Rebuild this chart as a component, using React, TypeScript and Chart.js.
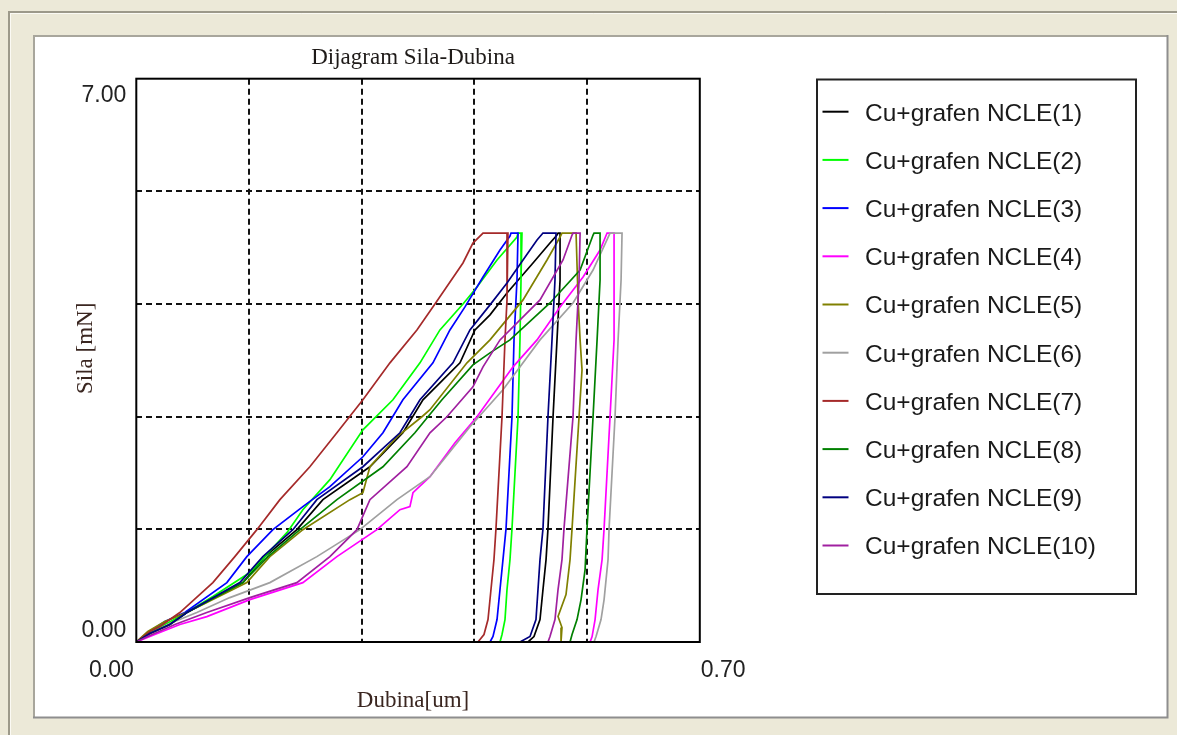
import React, { useEffect, useRef } from "react";
import { Chart, registerables } from "chart.js";

Chart.register(...registerables);

// ---------- data ----------
const chartTitle = "Dijagram Sila-Dubina";
const xAxisTitle = "Dubina[um]";
const yAxisTitle = "Sila [mN]";

const seriesLabels = [
  "Cu+grafen NCLE(1)",
  "Cu+grafen NCLE(2)",
  "Cu+grafen NCLE(3)",
  "Cu+grafen NCLE(4)",
  "Cu+grafen NCLE(5)",
  "Cu+grafen NCLE(6)",
  "Cu+grafen NCLE(7)",
  "Cu+grafen NCLE(8)",
  "Cu+grafen NCLE(9)",
  "Cu+grafen NCLE(10)",
];

const seriesColors = [
  "#000000",
  "#00FF00",
  "#0000FF",
  "#FF00FF",
  "#808000",
  "#A0A0A0",
  "#A52A2A",
  "#008000",
  "#000080",
  "#A020A0",
];

// depth [um], force [mN]
const depth1 = [0, 0.0168, 0.0416, 0.0628, 0.1324, 0.1597, 0.1995, 0.2318, 0.2902, 0.3312, 0.3561, 0.4021, 0.4207, 0.4394, 0.4605, 0.4928, 0.5139, 0.5226, 0.5239, 0.5264, 0.5264, 0.5226, 0.5177, 0.5114, 0.509, 0.5052, 0.5015, 0.494, 0.4866];
const force1 = [0, 0.105, 0.217, 0.366, 0.738, 1.061, 1.396, 1.769, 2.178, 2.6, 3.01, 3.469, 3.878, 4.065, 4.338, 4.71, 4.958, 5.057, 5.082, 5.082, 4.499, 3.754, 2.799, 1.409, 1.024, 0.652, 0.279, 0.068, 0];

const depth2 = [0, 0.0168, 0.0354, 0.0541, 0.0951, 0.1411, 0.1871, 0.2069, 0.2405, 0.2815, 0.3188, 0.3524, 0.3772, 0.4058, 0.4232, 0.4481, 0.4729, 0.4742, 0.4791, 0.4779, 0.4766, 0.4742, 0.4667, 0.4642, 0.4605, 0.458, 0.4543, 0.4518];
const force2 = [0, 0.105, 0.217, 0.316, 0.565, 0.863, 1.359, 1.644, 2.017, 2.637, 3.01, 3.469, 3.878, 4.201, 4.412, 4.747, 5.033, 5.082, 5.082, 4.499, 3.754, 2.799, 1.409, 1.024, 0.652, 0.279, 0.093, 0];

const depth3 = [0, 0.0168, 0.0354, 0.0603, 0.1125, 0.1373, 0.1697, 0.2069, 0.2405, 0.2815, 0.3064, 0.3312, 0.3685, 0.3896, 0.4083, 0.4307, 0.4518, 0.4642, 0.4655, 0.4742, 0.4729, 0.4692, 0.4667, 0.4593, 0.4555, 0.4518, 0.4481, 0.4431, 0.4394];
const force3 = [0, 0.13, 0.254, 0.366, 0.738, 1.061, 1.396, 1.682, 1.93, 2.302, 2.6, 3.01, 3.469, 3.878, 4.164, 4.536, 4.871, 5.045, 5.082, 5.082, 4.499, 3.754, 2.799, 1.409, 1.024, 0.652, 0.279, 0.068, 0];

const depth4 = [0, 0.023, 0.0541, 0.0876, 0.1411, 0.2069, 0.2492, 0.2989, 0.3275, 0.3399, 0.3437, 0.3648, 0.3959, 0.4232, 0.468, 0.4978, 0.5264, 0.555, 0.5761, 0.5848, 0.5935, 0.5935, 0.5935, 0.5885, 0.5811, 0.5786, 0.5736, 0.5699, 0.5662, 0.5637];
const force4 = [0, 0.093, 0.217, 0.316, 0.527, 0.738, 1.061, 1.396, 1.644, 1.682, 1.855, 2.054, 2.476, 2.799, 3.419, 3.754, 4.164, 4.536, 4.871, 5.082, 5.082, 4.499, 3.754, 2.799, 1.409, 1.024, 0.652, 0.279, 0.068, 0];

const depth5 = [0, 0.0143, 0.0354, 0.0628, 0.1373, 0.1659, 0.2069, 0.2654, 0.2815, 0.2902, 0.3238, 0.3548, 0.3648, 0.4108, 0.4394, 0.4804, 0.5102, 0.5264, 0.5288, 0.5463, 0.5488, 0.5513, 0.5537, 0.55, 0.5413, 0.5388, 0.5338, 0.5239, 0.5288, 0.5276];
const force5 = [0, 0.13, 0.254, 0.366, 0.738, 1.061, 1.396, 1.769, 1.855, 2.178, 2.55, 2.799, 2.886, 3.469, 3.754, 4.251, 4.747, 5.033, 5.082, 5.082, 4.251, 3.754, 3.382, 2.799, 1.409, 1.024, 0.59, 0.316, 0.18, 0];

const depth6 = [0, 0.0168, 0.0416, 0.0752, 0.1162, 0.1659, 0.2243, 0.2778, 0.3238, 0.3648, 0.4145, 0.4555, 0.5015, 0.5425, 0.5674, 0.5885, 0.6034, 0.6022, 0.5985, 0.5947, 0.5873, 0.586, 0.5811, 0.5773, 0.5711, 0.5686];
const force6 = [0, 0.105, 0.23, 0.366, 0.552, 0.738, 1.061, 1.396, 1.769, 2.054, 2.675, 3.134, 3.754, 4.213, 4.623, 5.082, 5.082, 4.499, 3.754, 2.799, 1.409, 1.024, 0.527, 0.279, 0.068, 0];

const depth7 = [0, 0.0168, 0.0292, 0.0541, 0.0951, 0.1224, 0.1498, 0.1784, 0.2156, 0.2492, 0.2815, 0.3151, 0.3486, 0.371, 0.4058, 0.4182, 0.4307, 0.4617, 0.4605, 0.458, 0.4543, 0.4468, 0.4443, 0.4406, 0.4369, 0.4319, 0.4244];
const force7 = [0, 0.13, 0.192, 0.366, 0.738, 1.061, 1.396, 1.769, 2.178, 2.6, 3.01, 3.469, 3.878, 4.201, 4.71, 4.958, 5.082, 5.082, 4.251, 3.754, 2.799, 1.409, 1.024, 0.652, 0.279, 0.093, 0];

const depth8 = [0, 0.0168, 0.0416, 0.0628, 0.1324, 0.1634, 0.2032, 0.2492, 0.3064, 0.3461, 0.3623, 0.3797, 0.4182, 0.4394, 0.4642, 0.5139, 0.5513, 0.5674, 0.5686, 0.5761, 0.5761, 0.5724, 0.5674, 0.5599, 0.5575, 0.5525, 0.5475, 0.5413, 0.5388];
const force8 = [0, 0.105, 0.217, 0.366, 0.738, 1.061, 1.396, 1.769, 2.178, 2.6, 2.799, 3.01, 3.444, 3.593, 3.754, 4.213, 4.623, 5.057, 5.082, 5.082, 4.499, 3.754, 2.799, 1.409, 0.9, 0.527, 0.279, 0.093, 0];

const depth9 = [0, 0.0168, 0.0416, 0.0628, 0.1286, 0.1572, 0.1945, 0.2243, 0.2815, 0.3275, 0.3524, 0.3934, 0.4145, 0.4394, 0.4605, 0.4804, 0.4978, 0.5052, 0.5214, 0.5201, 0.5164, 0.5114, 0.5052, 0.5015, 0.499, 0.4965, 0.4891, 0.4766];
const force9 = [0, 0.105, 0.217, 0.366, 0.738, 1.061, 1.396, 1.769, 2.178, 2.6, 3.01, 3.469, 3.878, 4.189, 4.462, 4.747, 4.995, 5.082, 5.082, 4.499, 3.754, 2.799, 1.409, 1.024, 0.652, 0.279, 0.068, 0];

const depth10 = [0, 0.0168, 0.0479, 0.0876, 0.1411, 0.1995, 0.2405, 0.2741, 0.2902, 0.3362, 0.3648, 0.3859, 0.4182, 0.4307, 0.4518, 0.5015, 0.5301, 0.5413, 0.5425, 0.5513, 0.55, 0.5463, 0.5425, 0.5313, 0.5288, 0.5239, 0.5201, 0.5139, 0.5114];
const force10 = [0, 0.081, 0.217, 0.366, 0.552, 0.738, 1.061, 1.396, 1.769, 2.178, 2.6, 2.799, 3.171, 3.419, 3.754, 4.251, 4.747, 5.057, 5.082, 5.082, 4.499, 3.754, 2.799, 1.409, 1.024, 0.652, 0.279, 0.068, 0];

const depthSeries = [depth1, depth2, depth3, depth4, depth5, depth6, depth7, depth8, depth9, depth10];
const forceSeries = [force1, force2, force3, force4, force5, force6, force7, force8, force9, force10];

const xMin = 0;
const xMax = 0.7;
const yMin = 0;
const yMax = 7;
const xGridValues = [0, 0.14, 0.28, 0.42, 0.56, 0.7];
const yGridValues = [0, 1.4, 2.8, 4.2, 5.6, 7];
const xTickValues = [0, 0.7];
const xTickLabels = ["0.00", "0.70"];
const yTickValues = [0, 7];
const yTickLabels = ["0.00", "7.00"];

// ---------- drawing helpers ----------
const W = 1177;
const H = 735;
const SANS = '"Liberation Sans", Arial, sans-serif';
const SERIF = '"Liberation Serif", "Times New Roman", serif';

const backgroundPlugin = {
  id: "winBackground",
  beforeDraw(chart: any) {
    const ctx = chart.ctx;
    ctx.save();
    ctx.fillStyle = "#ECE9D8";
    ctx.fillRect(0, 0, W, H);
    // outer frame
    ctx.strokeStyle = "#9C998A";
    ctx.lineWidth = 2;
    ctx.beginPath();
    ctx.moveTo(8, 12);
    ctx.lineTo(W, 12);
    ctx.moveTo(9, 11);
    ctx.lineTo(9, H);
    ctx.stroke();
    ctx.strokeStyle = "#FBFAF4";
    ctx.lineWidth = 1;
    ctx.beginPath();
    ctx.moveTo(10, 13.5);
    ctx.lineTo(W, 13.5);
    ctx.moveTo(10.5, 13);
    ctx.lineTo(10.5, H);
    ctx.stroke();
    // white panel
    ctx.fillStyle = "#FFFFFF";
    ctx.fillRect(33, 35, 1135, 683);
    ctx.strokeStyle = "#A8A69C";
    ctx.lineWidth = 2;
    ctx.beginPath();
    ctx.moveTo(33, 36);
    ctx.lineTo(1168, 36);
    ctx.moveTo(34, 35);
    ctx.lineTo(34, 718);
    ctx.stroke();
    ctx.strokeStyle = "#8E8E8E";
    ctx.beginPath();
    ctx.moveTo(1167.5, 35);
    ctx.lineTo(1167.5, 718.5);
    ctx.moveTo(33, 717.5);
    ctx.lineTo(1168.5, 717.5);
    ctx.stroke();
    ctx.restore();
  },
};

const decorPlugin = {
  id: "decor",
  afterDraw(chart: any) {
    const ctx = chart.ctx;
    const area = chart.chartArea;
    const xs = chart.scales.x;
    const ys = chart.scales.y;
    ctx.save();

    // plot frame
    ctx.strokeStyle = "#000000";
    ctx.lineWidth = 2;
    ctx.strokeRect(area.left, area.top, area.right - area.left, area.bottom - area.top);

    // tick labels
    ctx.fillStyle = "#222222";
    ctx.font = `23px ${SANS}`;
    ctx.textBaseline = "alphabetic";
    yTickValues.forEach((v, i) => {
      const py = ys.getPixelForValue(v);
      ctx.textAlign = "right";
      const by = i === yTickValues.length - 1 ? py + 23 : py - 5.5;
      ctx.fillText(yTickLabels[i], area.left - 10, by);
    });
    xTickValues.forEach((v, i) => {
      const px = xs.getPixelForValue(v);
      if (i === 0) {
        ctx.textAlign = "right";
        ctx.fillText(xTickLabels[i], px - 2.5, area.bottom + 34.5);
      } else {
        ctx.textAlign = "left";
        ctx.fillText(xTickLabels[i], px + 1, area.bottom + 34.5);
      }
    });

    // titles
    const cx = (area.left + area.right) / 2 - 5;
    ctx.fillStyle = "#1E1A18";
    ctx.font = `23px ${SERIF}`;
    ctx.textAlign = "center";
    ctx.fillText(chartTitle, cx, 64);
    ctx.fillStyle = "#3A2620";
    ctx.fillText(xAxisTitle, cx, 707);
    ctx.save();
    ctx.translate(86, (area.top + area.bottom) / 2 - 12);
    ctx.rotate(-Math.PI / 2);
    ctx.textBaseline = "middle";
    ctx.fillText(yAxisTitle, 0, 0);
    ctx.restore();

    // legend
    ctx.strokeStyle = "#222222";
    ctx.lineWidth = 2;
    ctx.strokeRect(817, 79.5, 319, 514.5);
    ctx.font = `24.5px ${SANS}`;
    ctx.textAlign = "left";
    ctx.textBaseline = "alphabetic";
    chart.data.datasets.forEach((ds: any, i: number) => {
      const cy = 111.7 + i * 48.2;
      ctx.strokeStyle = ds.borderColor;
      ctx.lineWidth = 2;
      ctx.beginPath();
      ctx.moveTo(822.5, cy);
      ctx.lineTo(848.5, cy);
      ctx.stroke();
      ctx.fillStyle = "#1A1A1A";
      ctx.fillText(ds.label, 865, cy + 8.8);
    });
    ctx.restore();
  },
};

function gridColor(max: number) {
  return (c: any) => {
    const v = c.tick ? c.tick.value : null;
    if (v === null || Math.abs(v - 0) < 1e-9 || Math.abs(v - max) < 1e-9) return "rgba(0,0,0,0)";
    return "#111111";
  };
}

export default function App() {
  const canvasRef = useRef<HTMLCanvasElement | null>(null);

  useEffect(() => {
    if (!canvasRef.current) return;
    const datasets = seriesLabels.map((label, i) => ({
      label,
      data: depthSeries[i].map((d, j) => ({ x: d, y: forceSeries[i][j] })),
      borderColor: seriesColors[i],
      backgroundColor: seriesColors[i],
      borderWidth: 1.7,
      pointRadius: 0,
      tension: 0,
      fill: false,
      order: seriesLabels.length - i,
    }));

    const chart = new Chart(canvasRef.current, {
      type: "line",
      data: { datasets },
      options: {
        responsive: false,
        animation: false,
        events: [],
        layout: {
          autoPadding: false,
          padding: { left: 136.3, top: 78.7, right: W - 699.8, bottom: H - 642 },
        },
        plugins: {
          legend: { display: false },
          tooltip: { enabled: false },
          title: { display: false },
        },
        scales: {
          x: {
            type: "linear",
            min: xMin,
            max: xMax,
            afterBuildTicks: (axis: any) => {
              axis.ticks = xGridValues.map((v) => ({ value: v }));
            },
            ticks: { display: false },
            grid: { color: gridColor(xMax), lineWidth: 2, drawTicks: false },
            border: { display: false, dash: [6, 4] },
          },
          y: {
            type: "linear",
            min: yMin,
            max: yMax,
            afterBuildTicks: (axis: any) => {
              axis.ticks = yGridValues.map((v) => ({ value: v }));
            },
            ticks: { display: false },
            grid: { color: gridColor(yMax), lineWidth: 2, drawTicks: false },
            border: { display: false, dash: [6, 4] },
          },
        },
      } as any,
      plugins: [backgroundPlugin, decorPlugin],
    });
    return () => chart.destroy();
  }, []);

  return (
    <div style={{ position: "fixed", left: 0, top: 0, width: W, height: H }}>
      <canvas ref={canvasRef} width={W} height={H} style={{ display: "block" }} />
    </div>
  );
}
